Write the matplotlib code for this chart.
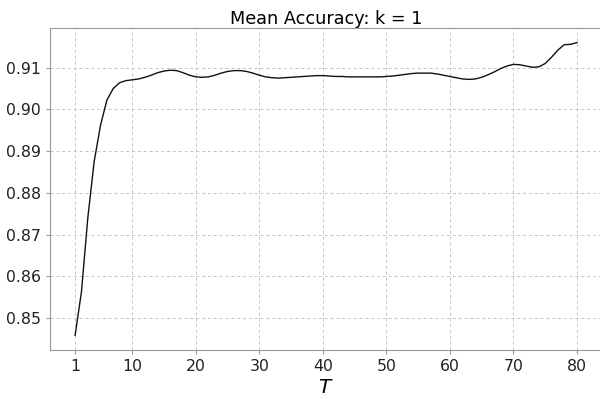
import numpy as np
import matplotlib as mpl
mpl.use('Agg')
import matplotlib.pyplot as plt

# T = 1..80, mean accuracy for k = 1
T = list(range(1, 81))
acc = [0.8459, 0.8563, 0.8740, 0.8875, 0.8962, 0.9022, 0.9050, 0.9064, 0.9069, 0.9071,
       0.9073, 0.9077, 0.9082, 0.9088, 0.9092, 0.9094, 0.9093, 0.9088, 0.9082, 0.9078,
       0.9077, 0.9078, 0.9082, 0.9087, 0.9091, 0.9093, 0.9093, 0.9091, 0.9087, 0.9082,
       0.9078, 0.9076, 0.9075, 0.9076, 0.9077, 0.9078, 0.9079, 0.9080, 0.9081, 0.9081,
       0.9080, 0.9079, 0.9079, 0.9078, 0.9078, 0.9078, 0.9078, 0.9078, 0.9078, 0.9079,
       0.9080, 0.9082, 0.9084, 0.9086, 0.9087, 0.9087, 0.9087, 0.9085, 0.9082, 0.9079,
       0.9076, 0.9073, 0.9072, 0.9073, 0.9077, 0.9083, 0.9090, 0.9098, 0.9104, 0.9108,
       0.9107, 0.9104, 0.9101, 0.9102, 0.9110, 0.9125, 0.9142, 0.9155, 0.9156, 0.9160]
xticks = [1, 10, 20, 30, 40, 50, 60, 70, 80]

fig = plt.figure(figsize=(6, 3.99), dpi=100)
ax = fig.add_axes([50 / 600, 49 / 399, 552 / 600, 322 / 399])
ax.plot(T, acc, c='#111111', lw=1.0)
ax.set_xticks(xticks)
ax.set_title('Mean Accuracy: k = 1', fontsize=12.7, pad=3)
ax.set_xlabel('$T$', fontsize=14.5, labelpad=3)
ax.tick_params(labelsize=11.3, length=3, color='#999999', labelcolor='#222222')
ax.grid(True, ls=(0, (3, 3)), c='#c4c4c4', lw=0.7)
for s in ax.spines.values():
    s.set_color('#999999')
ax.spines['right'].set_visible(False)
plt.savefig('out.png', dpi=100)
